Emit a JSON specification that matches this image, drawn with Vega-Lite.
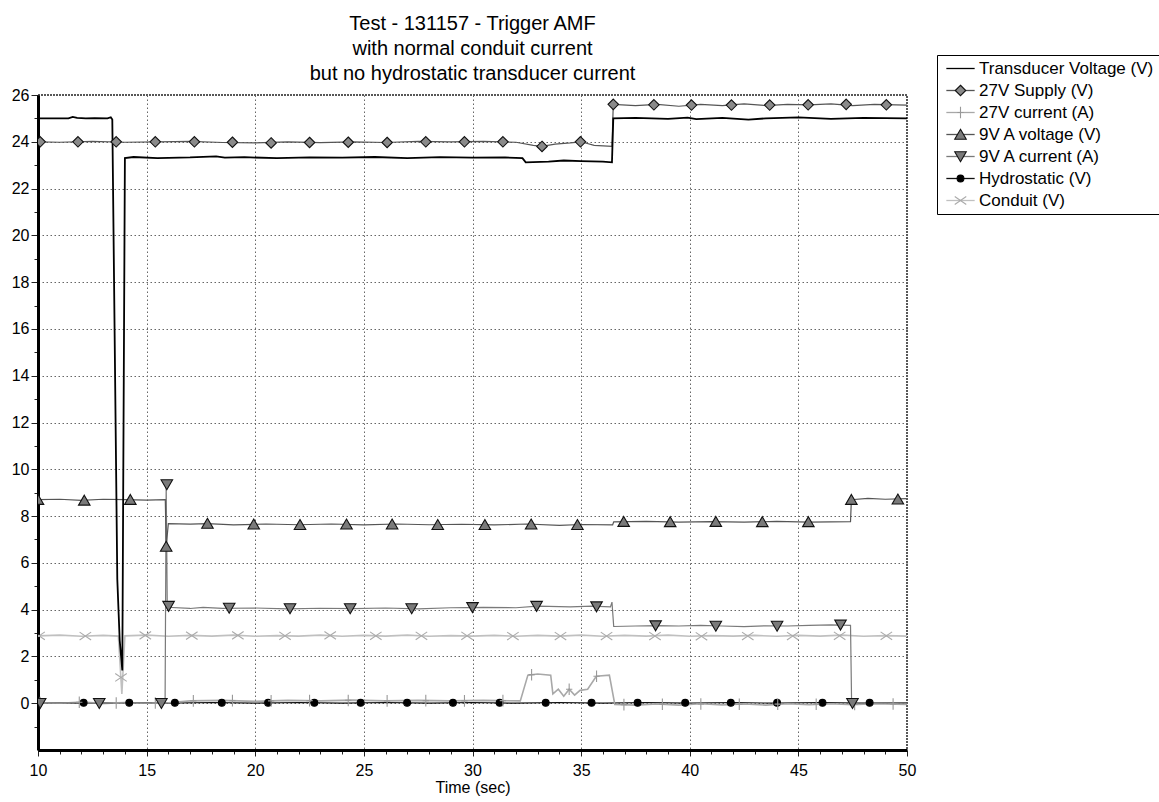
{
  "$schema": "https://vega.github.io/schema/vega-lite/v6.json",
  "width": 869,
  "height": 655,
  "autosize": {"type": "none"},
  "padding": {"left": 38, "top": 95, "right": 252, "bottom": 52},
  "background": "white",
  "title": {
    "text": ["Test - 131157 - Trigger AMF", "with normal conduit current", "but no hydrostatic transducer current"],
    "font": "Liberation Sans",
    "fontSize": 20,
    "fontWeight": "normal",
    "lineHeight": 25,
    "anchor": "middle",
    "frame": "group",
    "offset": -29,
    "color": "#000"
  },
  "config": {
    "font": "Liberation Sans",
    "view": {"stroke": "#222", "strokeWidth": 1.5, "strokeDash": [2, 1]},
    "axis": {
      "domainColor": "#000",
      "domainWidth": 3,
      "tickColor": "#222",
      "tickWidth": 1,
      "labelFont": "Liberation Sans",
      "labelFontSize": 16,
      "labelColor": "#000",
      "gridColor": "#666",
      "gridDash": [1.5, 2.5],
      "gridWidth": 1,
      "labelOverlap": false,
      "labelBound": false,
      "labelFlush": false
    }
  },
  "datasets": {
    "lines": [
      {"s": "Hydrostatic (V)", "t": 10, "v": 0.02},
      {"s": "Hydrostatic (V)", "t": 12, "v": 0.0},
      {"s": "Hydrostatic (V)", "t": 14, "v": 0.03},
      {"s": "Hydrostatic (V)", "t": 16, "v": 0.0},
      {"s": "Hydrostatic (V)", "t": 18, "v": 0.03},
      {"s": "Hydrostatic (V)", "t": 20, "v": 0.0},
      {"s": "Hydrostatic (V)", "t": 22, "v": 0.03},
      {"s": "Hydrostatic (V)", "t": 24, "v": 0.0},
      {"s": "Hydrostatic (V)", "t": 26, "v": 0.03},
      {"s": "Hydrostatic (V)", "t": 28, "v": 0.0},
      {"s": "Hydrostatic (V)", "t": 30, "v": 0.03},
      {"s": "Hydrostatic (V)", "t": 32, "v": 0.0},
      {"s": "Hydrostatic (V)", "t": 34, "v": 0.03},
      {"s": "Hydrostatic (V)", "t": 36, "v": 0.0},
      {"s": "Hydrostatic (V)", "t": 38, "v": 0.03},
      {"s": "Hydrostatic (V)", "t": 40, "v": 0.0},
      {"s": "Hydrostatic (V)", "t": 42, "v": 0.03},
      {"s": "Hydrostatic (V)", "t": 44, "v": 0.0},
      {"s": "Hydrostatic (V)", "t": 46, "v": 0.03},
      {"s": "Hydrostatic (V)", "t": 48, "v": 0.0},
      {"s": "Hydrostatic (V)", "t": 50, "v": 0.02},

      {"s": "27V current (A)", "t": 10, "v": 0.03},
      {"s": "27V current (A)", "t": 11, "v": 0.0},
      {"s": "27V current (A)", "t": 12, "v": 0.05},
      {"s": "27V current (A)", "t": 13, "v": 0.0},
      {"s": "27V current (A)", "t": 14, "v": 0.03},
      {"s": "27V current (A)", "t": 15, "v": 0.0},
      {"s": "27V current (A)", "t": 16, "v": 0.02},
      {"s": "27V current (A)", "t": 17, "v": 0.1},
      {"s": "27V current (A)", "t": 18.5, "v": 0.12},
      {"s": "27V current (A)", "t": 20, "v": 0.08},
      {"s": "27V current (A)", "t": 21.5, "v": 0.12},
      {"s": "27V current (A)", "t": 23, "v": 0.1},
      {"s": "27V current (A)", "t": 24.5, "v": 0.13},
      {"s": "27V current (A)", "t": 26, "v": 0.1},
      {"s": "27V current (A)", "t": 27.5, "v": 0.12},
      {"s": "27V current (A)", "t": 29, "v": 0.1},
      {"s": "27V current (A)", "t": 30.5, "v": 0.12},
      {"s": "27V current (A)", "t": 32.2, "v": 0.1},
      {"s": "27V current (A)", "t": 32.55, "v": 1.2},
      {"s": "27V current (A)", "t": 33.0, "v": 1.25},
      {"s": "27V current (A)", "t": 33.6, "v": 1.2},
      {"s": "27V current (A)", "t": 33.7, "v": 0.4},
      {"s": "27V current (A)", "t": 33.95, "v": 0.6},
      {"s": "27V current (A)", "t": 34.2, "v": 0.3},
      {"s": "27V current (A)", "t": 34.45, "v": 0.6},
      {"s": "27V current (A)", "t": 34.7, "v": 0.35},
      {"s": "27V current (A)", "t": 34.95, "v": 0.55},
      {"s": "27V current (A)", "t": 35.3, "v": 0.6},
      {"s": "27V current (A)", "t": 35.7, "v": 1.15},
      {"s": "27V current (A)", "t": 36.3, "v": 1.2},
      {"s": "27V current (A)", "t": 36.55, "v": -0.05},
      {"s": "27V current (A)", "t": 37.5, "v": -0.08},
      {"s": "27V current (A)", "t": 38.5, "v": -0.03},
      {"s": "27V current (A)", "t": 39.5, "v": -0.08},
      {"s": "27V current (A)", "t": 40.5, "v": -0.02},
      {"s": "27V current (A)", "t": 41.5, "v": -0.07},
      {"s": "27V current (A)", "t": 42.5, "v": -0.03},
      {"s": "27V current (A)", "t": 43.5, "v": -0.08},
      {"s": "27V current (A)", "t": 44.5, "v": -0.02},
      {"s": "27V current (A)", "t": 45.5, "v": -0.06},
      {"s": "27V current (A)", "t": 46.5, "v": -0.02},
      {"s": "27V current (A)", "t": 47.5, "v": -0.06},
      {"s": "27V current (A)", "t": 48.5, "v": -0.02},
      {"s": "27V current (A)", "t": 50, "v": -0.05},

      {"s": "Conduit (V)", "t": 10, "v": 2.88},
      {"s": "Conduit (V)", "t": 11, "v": 2.91},
      {"s": "Conduit (V)", "t": 12, "v": 2.86},
      {"s": "Conduit (V)", "t": 13, "v": 2.9},
      {"s": "Conduit (V)", "t": 13.7, "v": 2.87},
      {"s": "Conduit (V)", "t": 13.86, "v": 0.4},
      {"s": "Conduit (V)", "t": 14.0, "v": 2.88},
      {"s": "Conduit (V)", "t": 15, "v": 2.91},
      {"s": "Conduit (V)", "t": 16, "v": 2.86},
      {"s": "Conduit (V)", "t": 17, "v": 2.9},
      {"s": "Conduit (V)", "t": 18, "v": 2.87},
      {"s": "Conduit (V)", "t": 19, "v": 2.91},
      {"s": "Conduit (V)", "t": 20, "v": 2.86},
      {"s": "Conduit (V)", "t": 21, "v": 2.89},
      {"s": "Conduit (V)", "t": 22, "v": 2.87},
      {"s": "Conduit (V)", "t": 23, "v": 2.91},
      {"s": "Conduit (V)", "t": 24, "v": 2.86},
      {"s": "Conduit (V)", "t": 25, "v": 2.9},
      {"s": "Conduit (V)", "t": 26, "v": 2.87},
      {"s": "Conduit (V)", "t": 27, "v": 2.91},
      {"s": "Conduit (V)", "t": 28, "v": 2.86},
      {"s": "Conduit (V)", "t": 29, "v": 2.89},
      {"s": "Conduit (V)", "t": 30, "v": 2.87},
      {"s": "Conduit (V)", "t": 31, "v": 2.9},
      {"s": "Conduit (V)", "t": 32, "v": 2.86},
      {"s": "Conduit (V)", "t": 33, "v": 2.9},
      {"s": "Conduit (V)", "t": 34, "v": 2.87},
      {"s": "Conduit (V)", "t": 35, "v": 2.91},
      {"s": "Conduit (V)", "t": 36, "v": 2.86},
      {"s": "Conduit (V)", "t": 37, "v": 2.9},
      {"s": "Conduit (V)", "t": 38, "v": 2.87},
      {"s": "Conduit (V)", "t": 39, "v": 2.91},
      {"s": "Conduit (V)", "t": 40, "v": 2.86},
      {"s": "Conduit (V)", "t": 41, "v": 2.89},
      {"s": "Conduit (V)", "t": 42, "v": 2.87},
      {"s": "Conduit (V)", "t": 43, "v": 2.9},
      {"s": "Conduit (V)", "t": 44, "v": 2.86},
      {"s": "Conduit (V)", "t": 45, "v": 2.9},
      {"s": "Conduit (V)", "t": 46, "v": 2.87},
      {"s": "Conduit (V)", "t": 47, "v": 2.91},
      {"s": "Conduit (V)", "t": 48, "v": 2.86},
      {"s": "Conduit (V)", "t": 49, "v": 2.89},
      {"s": "Conduit (V)", "t": 50, "v": 2.87},

      {"s": "9V A current (A)", "t": 10, "v": 0.0},
      {"s": "9V A current (A)", "t": 11.5, "v": 0.02},
      {"s": "9V A current (A)", "t": 13, "v": -0.02},
      {"s": "9V A current (A)", "t": 14.5, "v": 0.02},
      {"s": "9V A current (A)", "t": 15.85, "v": 0.0},
      {"s": "9V A current (A)", "t": 15.9, "v": 9.35},
      {"s": "9V A current (A)", "t": 15.95, "v": 4.1},
      {"s": "9V A current (A)", "t": 17, "v": 4.05},
      {"s": "9V A current (A)", "t": 17.6, "v": 4.1},
      {"s": "9V A current (A)", "t": 18.5, "v": 4.05},
      {"s": "9V A current (A)", "t": 20, "v": 4.07},
      {"s": "9V A current (A)", "t": 21.5, "v": 4.03},
      {"s": "9V A current (A)", "t": 23, "v": 4.06},
      {"s": "9V A current (A)", "t": 24.5, "v": 4.04},
      {"s": "9V A current (A)", "t": 26, "v": 4.07},
      {"s": "9V A current (A)", "t": 27.5, "v": 4.03},
      {"s": "9V A current (A)", "t": 29, "v": 4.08},
      {"s": "9V A current (A)", "t": 30.5, "v": 4.1},
      {"s": "9V A current (A)", "t": 32, "v": 4.08},
      {"s": "9V A current (A)", "t": 33, "v": 4.15},
      {"s": "9V A current (A)", "t": 34.5, "v": 4.12},
      {"s": "9V A current (A)", "t": 35.5, "v": 4.15},
      {"s": "9V A current (A)", "t": 36.35, "v": 4.12},
      {"s": "9V A current (A)", "t": 36.42, "v": 4.32},
      {"s": "9V A current (A)", "t": 36.5, "v": 3.28},
      {"s": "9V A current (A)", "t": 37.5, "v": 3.3},
      {"s": "9V A current (A)", "t": 38.5, "v": 3.32},
      {"s": "9V A current (A)", "t": 39.5, "v": 3.3},
      {"s": "9V A current (A)", "t": 40.5, "v": 3.33},
      {"s": "9V A current (A)", "t": 41.5, "v": 3.3},
      {"s": "9V A current (A)", "t": 42.5, "v": 3.27},
      {"s": "9V A current (A)", "t": 43.5, "v": 3.31},
      {"s": "9V A current (A)", "t": 44.5, "v": 3.3},
      {"s": "9V A current (A)", "t": 45.5, "v": 3.33},
      {"s": "9V A current (A)", "t": 46.5, "v": 3.35},
      {"s": "9V A current (A)", "t": 47.4, "v": 3.33},
      {"s": "9V A current (A)", "t": 47.45, "v": 0.0},
      {"s": "9V A current (A)", "t": 48.5, "v": 0.02},
      {"s": "9V A current (A)", "t": 50, "v": 0.0},

      {"s": "9V A voltage (V)", "t": 10, "v": 8.7},
      {"s": "9V A voltage (V)", "t": 11, "v": 8.72},
      {"s": "9V A voltage (V)", "t": 12, "v": 8.67},
      {"s": "9V A voltage (V)", "t": 13, "v": 8.72},
      {"s": "9V A voltage (V)", "t": 14, "v": 8.7},
      {"s": "9V A voltage (V)", "t": 15, "v": 8.68},
      {"s": "9V A voltage (V)", "t": 15.86, "v": 8.7},
      {"s": "9V A voltage (V)", "t": 15.9, "v": 6.7},
      {"s": "9V A voltage (V)", "t": 16.0, "v": 7.68},
      {"s": "9V A voltage (V)", "t": 17, "v": 7.66},
      {"s": "9V A voltage (V)", "t": 17.8, "v": 7.68},
      {"s": "9V A voltage (V)", "t": 19, "v": 7.62},
      {"s": "9V A voltage (V)", "t": 20.5, "v": 7.66},
      {"s": "9V A voltage (V)", "t": 22, "v": 7.63},
      {"s": "9V A voltage (V)", "t": 23.5, "v": 7.66},
      {"s": "9V A voltage (V)", "t": 25, "v": 7.62},
      {"s": "9V A voltage (V)", "t": 26.5, "v": 7.66},
      {"s": "9V A voltage (V)", "t": 28, "v": 7.63},
      {"s": "9V A voltage (V)", "t": 29.5, "v": 7.65},
      {"s": "9V A voltage (V)", "t": 31, "v": 7.62},
      {"s": "9V A voltage (V)", "t": 32.5, "v": 7.66},
      {"s": "9V A voltage (V)", "t": 34, "v": 7.6},
      {"s": "9V A voltage (V)", "t": 35, "v": 7.64},
      {"s": "9V A voltage (V)", "t": 36.45, "v": 7.62},
      {"s": "9V A voltage (V)", "t": 36.5, "v": 7.75},
      {"s": "9V A voltage (V)", "t": 38, "v": 7.77},
      {"s": "9V A voltage (V)", "t": 39.5, "v": 7.74},
      {"s": "9V A voltage (V)", "t": 41, "v": 7.76},
      {"s": "9V A voltage (V)", "t": 42.5, "v": 7.74},
      {"s": "9V A voltage (V)", "t": 44, "v": 7.77},
      {"s": "9V A voltage (V)", "t": 45.5, "v": 7.74},
      {"s": "9V A voltage (V)", "t": 47.4, "v": 7.76},
      {"s": "9V A voltage (V)", "t": 47.44, "v": 8.7},
      {"s": "9V A voltage (V)", "t": 48.2, "v": 8.76},
      {"s": "9V A voltage (V)", "t": 49, "v": 8.72},
      {"s": "9V A voltage (V)", "t": 50, "v": 8.75},

      {"s": "27V Supply (V)", "t": 10, "v": 24.0},
      {"s": "27V Supply (V)", "t": 11, "v": 23.98},
      {"s": "27V Supply (V)", "t": 12.5, "v": 24.02},
      {"s": "27V Supply (V)", "t": 14, "v": 23.98},
      {"s": "27V Supply (V)", "t": 15.5, "v": 24.0},
      {"s": "27V Supply (V)", "t": 17, "v": 24.02},
      {"s": "27V Supply (V)", "t": 18.5, "v": 23.97},
      {"s": "27V Supply (V)", "t": 20, "v": 23.95},
      {"s": "27V Supply (V)", "t": 21.5, "v": 24.0},
      {"s": "27V Supply (V)", "t": 23, "v": 23.96},
      {"s": "27V Supply (V)", "t": 24.5, "v": 24.0},
      {"s": "27V Supply (V)", "t": 26, "v": 23.97},
      {"s": "27V Supply (V)", "t": 27.5, "v": 24.02},
      {"s": "27V Supply (V)", "t": 29, "v": 24.0},
      {"s": "27V Supply (V)", "t": 30.5, "v": 24.02},
      {"s": "27V Supply (V)", "t": 32, "v": 23.98},
      {"s": "27V Supply (V)", "t": 32.8, "v": 23.85},
      {"s": "27V Supply (V)", "t": 33.2, "v": 23.8},
      {"s": "27V Supply (V)", "t": 33.8, "v": 23.9},
      {"s": "27V Supply (V)", "t": 34.5, "v": 23.95},
      {"s": "27V Supply (V)", "t": 35, "v": 24.0},
      {"s": "27V Supply (V)", "t": 35.6, "v": 23.85},
      {"s": "27V Supply (V)", "t": 36.42, "v": 23.8},
      {"s": "27V Supply (V)", "t": 36.48, "v": 25.6},
      {"s": "27V Supply (V)", "t": 37.5, "v": 25.55},
      {"s": "27V Supply (V)", "t": 38.5, "v": 25.6},
      {"s": "27V Supply (V)", "t": 39.5, "v": 25.52},
      {"s": "27V Supply (V)", "t": 40.5, "v": 25.6},
      {"s": "27V Supply (V)", "t": 41.5, "v": 25.55},
      {"s": "27V Supply (V)", "t": 42.5, "v": 25.62},
      {"s": "27V Supply (V)", "t": 43.5, "v": 25.55},
      {"s": "27V Supply (V)", "t": 44.5, "v": 25.6},
      {"s": "27V Supply (V)", "t": 45.5, "v": 25.58},
      {"s": "27V Supply (V)", "t": 46.5, "v": 25.62},
      {"s": "27V Supply (V)", "t": 47.5, "v": 25.55},
      {"s": "27V Supply (V)", "t": 48.5, "v": 25.6},
      {"s": "27V Supply (V)", "t": 50, "v": 25.57},

      {"s": "Transducer Voltage (V)", "t": 10, "v": 25.0},
      {"s": "Transducer Voltage (V)", "t": 11.4, "v": 25.0},
      {"s": "Transducer Voltage (V)", "t": 11.6, "v": 25.06},
      {"s": "Transducer Voltage (V)", "t": 11.8, "v": 25.02},
      {"s": "Transducer Voltage (V)", "t": 12.2, "v": 25.0},
      {"s": "Transducer Voltage (V)", "t": 12.6, "v": 25.01},
      {"s": "Transducer Voltage (V)", "t": 13.2, "v": 25.0},
      {"s": "Transducer Voltage (V)", "t": 13.35, "v": 25.05},
      {"s": "Transducer Voltage (V)", "t": 13.42, "v": 24.95},
      {"s": "Transducer Voltage (V)", "t": 13.65, "v": 5.3},
      {"s": "Transducer Voltage (V)", "t": 13.76, "v": 2.7},
      {"s": "Transducer Voltage (V)", "t": 13.88, "v": 1.4},
      {"s": "Transducer Voltage (V)", "t": 14.0, "v": 23.3},
      {"s": "Transducer Voltage (V)", "t": 14.4, "v": 23.35},
      {"s": "Transducer Voltage (V)", "t": 15.5, "v": 23.3},
      {"s": "Transducer Voltage (V)", "t": 17, "v": 23.33},
      {"s": "Transducer Voltage (V)", "t": 18.2, "v": 23.38},
      {"s": "Transducer Voltage (V)", "t": 18.6, "v": 23.32},
      {"s": "Transducer Voltage (V)", "t": 19.5, "v": 23.34},
      {"s": "Transducer Voltage (V)", "t": 21, "v": 23.3},
      {"s": "Transducer Voltage (V)", "t": 22.5, "v": 23.33},
      {"s": "Transducer Voltage (V)", "t": 24, "v": 23.32},
      {"s": "Transducer Voltage (V)", "t": 25.5, "v": 23.35},
      {"s": "Transducer Voltage (V)", "t": 27, "v": 23.3},
      {"s": "Transducer Voltage (V)", "t": 28.5, "v": 23.34},
      {"s": "Transducer Voltage (V)", "t": 30, "v": 23.32},
      {"s": "Transducer Voltage (V)", "t": 31.5, "v": 23.33},
      {"s": "Transducer Voltage (V)", "t": 32.3, "v": 23.3},
      {"s": "Transducer Voltage (V)", "t": 32.45, "v": 23.12},
      {"s": "Transducer Voltage (V)", "t": 33.5, "v": 23.15},
      {"s": "Transducer Voltage (V)", "t": 34.2, "v": 23.2},
      {"s": "Transducer Voltage (V)", "t": 35, "v": 23.17},
      {"s": "Transducer Voltage (V)", "t": 36.0, "v": 23.15},
      {"s": "Transducer Voltage (V)", "t": 36.42, "v": 23.12},
      {"s": "Transducer Voltage (V)", "t": 36.48, "v": 25.0},
      {"s": "Transducer Voltage (V)", "t": 37.5, "v": 25.02},
      {"s": "Transducer Voltage (V)", "t": 39, "v": 24.98},
      {"s": "Transducer Voltage (V)", "t": 39.9, "v": 25.03},
      {"s": "Transducer Voltage (V)", "t": 40.3, "v": 24.97},
      {"s": "Transducer Voltage (V)", "t": 41.5, "v": 25.02},
      {"s": "Transducer Voltage (V)", "t": 42.7, "v": 24.95},
      {"s": "Transducer Voltage (V)", "t": 43.5, "v": 25.0},
      {"s": "Transducer Voltage (V)", "t": 45, "v": 25.04},
      {"s": "Transducer Voltage (V)", "t": 46.5, "v": 24.98},
      {"s": "Transducer Voltage (V)", "t": 48, "v": 25.02},
      {"s": "Transducer Voltage (V)", "t": 50, "v": 25.0}
    ],
    "marks": [
      {"s": "Hydrostatic (V)", "t": 12.1, "v": 0.02},
      {"s": "Hydrostatic (V)", "t": 14.2, "v": 0.02},
      {"s": "Hydrostatic (V)", "t": 16.3, "v": 0.02},
      {"s": "Hydrostatic (V)", "t": 18.46, "v": 0.02},
      {"s": "Hydrostatic (V)", "t": 20.59, "v": 0.02},
      {"s": "Hydrostatic (V)", "t": 22.72, "v": 0.02},
      {"s": "Hydrostatic (V)", "t": 24.85, "v": 0.02},
      {"s": "Hydrostatic (V)", "t": 26.99, "v": 0.02},
      {"s": "Hydrostatic (V)", "t": 29.1, "v": 0.02},
      {"s": "Hydrostatic (V)", "t": 31.25, "v": 0.02},
      {"s": "Hydrostatic (V)", "t": 33.37, "v": 0.02},
      {"s": "Hydrostatic (V)", "t": 35.48, "v": 0.02},
      {"s": "Hydrostatic (V)", "t": 37.6, "v": 0.02},
      {"s": "Hydrostatic (V)", "t": 39.79, "v": 0.02},
      {"s": "Hydrostatic (V)", "t": 41.89, "v": 0.02},
      {"s": "Hydrostatic (V)", "t": 44.02, "v": 0.02},
      {"s": "Hydrostatic (V)", "t": 46.11, "v": 0.02},
      {"s": "Hydrostatic (V)", "t": 48.28, "v": 0.02},

      {"s": "27V current (A)", "t": 10.1, "v": 0.03},
      {"s": "27V current (A)", "t": 11.9, "v": 0.04},
      {"s": "27V current (A)", "t": 13.6, "v": 0.01},
      {"s": "27V current (A)", "t": 15.4, "v": 0.01},
      {"s": "27V current (A)", "t": 17.15, "v": 0.1},
      {"s": "27V current (A)", "t": 18.95, "v": 0.11},
      {"s": "27V current (A)", "t": 20.73, "v": 0.1},
      {"s": "27V current (A)", "t": 22.5, "v": 0.11},
      {"s": "27V current (A)", "t": 24.28, "v": 0.12},
      {"s": "27V current (A)", "t": 26.07, "v": 0.1},
      {"s": "27V current (A)", "t": 27.85, "v": 0.11},
      {"s": "27V current (A)", "t": 29.63, "v": 0.1},
      {"s": "27V current (A)", "t": 31.4, "v": 0.11},
      {"s": "27V current (A)", "t": 32.72, "v": 1.22},
      {"s": "27V current (A)", "t": 34.45, "v": 0.6},
      {"s": "27V current (A)", "t": 35.71, "v": 1.15},
      {"s": "27V current (A)", "t": 36.97, "v": -0.06},
      {"s": "27V current (A)", "t": 38.74, "v": -0.04},
      {"s": "27V current (A)", "t": 40.51, "v": -0.03},
      {"s": "27V current (A)", "t": 42.28, "v": -0.04},
      {"s": "27V current (A)", "t": 44.05, "v": -0.04},
      {"s": "27V current (A)", "t": 45.82, "v": -0.04},
      {"s": "27V current (A)", "t": 47.59, "v": -0.05},
      {"s": "27V current (A)", "t": 49.36, "v": -0.03},

      {"s": "Conduit (V)", "t": 10.05, "v": 2.88},
      {"s": "Conduit (V)", "t": 12.18, "v": 2.87},
      {"s": "Conduit (V)", "t": 13.82, "v": 1.1},
      {"s": "Conduit (V)", "t": 14.94, "v": 2.9},
      {"s": "Conduit (V)", "t": 17.08, "v": 2.89},
      {"s": "Conduit (V)", "t": 19.2, "v": 2.9},
      {"s": "Conduit (V)", "t": 21.37, "v": 2.88},
      {"s": "Conduit (V)", "t": 23.45, "v": 2.9},
      {"s": "Conduit (V)", "t": 25.55, "v": 2.88},
      {"s": "Conduit (V)", "t": 27.65, "v": 2.88},
      {"s": "Conduit (V)", "t": 29.75, "v": 2.88},
      {"s": "Conduit (V)", "t": 31.86, "v": 2.87},
      {"s": "Conduit (V)", "t": 34.05, "v": 2.87},
      {"s": "Conduit (V)", "t": 36.17, "v": 2.87},
      {"s": "Conduit (V)", "t": 38.4, "v": 2.87},
      {"s": "Conduit (V)", "t": 40.54, "v": 2.86},
      {"s": "Conduit (V)", "t": 42.67, "v": 2.87},
      {"s": "Conduit (V)", "t": 44.74, "v": 2.87},
      {"s": "Conduit (V)", "t": 46.9, "v": 2.88},
      {"s": "Conduit (V)", "t": 49.05, "v": 2.88},

      {"s": "9V A current (A)", "t": 10.1, "v": 0.0},
      {"s": "9V A current (A)", "t": 12.82, "v": 0.0},
      {"s": "9V A current (A)", "t": 15.68, "v": 0.0},
      {"s": "9V A current (A)", "t": 15.93, "v": 9.35},
      {"s": "9V A current (A)", "t": 16.01, "v": 4.15},
      {"s": "9V A current (A)", "t": 18.8, "v": 4.07},
      {"s": "9V A current (A)", "t": 21.6, "v": 4.05},
      {"s": "9V A current (A)", "t": 24.37, "v": 4.05},
      {"s": "9V A current (A)", "t": 27.2, "v": 4.05},
      {"s": "9V A current (A)", "t": 30.0, "v": 4.1},
      {"s": "9V A current (A)", "t": 32.95, "v": 4.15},
      {"s": "9V A current (A)", "t": 35.71, "v": 4.13},
      {"s": "9V A current (A)", "t": 38.43, "v": 3.32},
      {"s": "9V A current (A)", "t": 41.2, "v": 3.3},
      {"s": "9V A current (A)", "t": 44.02, "v": 3.3},
      {"s": "9V A current (A)", "t": 46.94, "v": 3.35},
      {"s": "9V A current (A)", "t": 47.49, "v": 0.0},

      {"s": "9V A voltage (V)", "t": 10.0, "v": 8.7},
      {"s": "9V A voltage (V)", "t": 12.13, "v": 8.67},
      {"s": "9V A voltage (V)", "t": 14.25, "v": 8.7},
      {"s": "9V A voltage (V)", "t": 15.9, "v": 6.7},
      {"s": "9V A voltage (V)", "t": 17.8, "v": 7.68},
      {"s": "9V A voltage (V)", "t": 19.93, "v": 7.65},
      {"s": "9V A voltage (V)", "t": 22.06, "v": 7.63},
      {"s": "9V A voltage (V)", "t": 24.2, "v": 7.65},
      {"s": "9V A voltage (V)", "t": 26.3, "v": 7.65},
      {"s": "9V A voltage (V)", "t": 28.4, "v": 7.63},
      {"s": "9V A voltage (V)", "t": 30.57, "v": 7.63},
      {"s": "9V A voltage (V)", "t": 32.7, "v": 7.65},
      {"s": "9V A voltage (V)", "t": 34.83, "v": 7.63},
      {"s": "9V A voltage (V)", "t": 36.96, "v": 7.76},
      {"s": "9V A voltage (V)", "t": 39.1, "v": 7.75},
      {"s": "9V A voltage (V)", "t": 41.2, "v": 7.76},
      {"s": "9V A voltage (V)", "t": 43.34, "v": 7.75},
      {"s": "9V A voltage (V)", "t": 45.46, "v": 7.75},
      {"s": "9V A voltage (V)", "t": 47.44, "v": 8.7},
      {"s": "9V A voltage (V)", "t": 49.58, "v": 8.72},

      {"s": "27V Supply (V)", "t": 10.1, "v": 24.0},
      {"s": "27V Supply (V)", "t": 11.84, "v": 24.0},
      {"s": "27V Supply (V)", "t": 13.6, "v": 24.0},
      {"s": "27V Supply (V)", "t": 15.4, "v": 24.0},
      {"s": "27V Supply (V)", "t": 17.2, "v": 24.0},
      {"s": "27V Supply (V)", "t": 18.95, "v": 23.98},
      {"s": "27V Supply (V)", "t": 20.73, "v": 23.95},
      {"s": "27V Supply (V)", "t": 22.5, "v": 23.97},
      {"s": "27V Supply (V)", "t": 24.28, "v": 23.98},
      {"s": "27V Supply (V)", "t": 26.07, "v": 23.97},
      {"s": "27V Supply (V)", "t": 27.85, "v": 24.0},
      {"s": "27V Supply (V)", "t": 29.63, "v": 24.0},
      {"s": "27V Supply (V)", "t": 31.4, "v": 24.0},
      {"s": "27V Supply (V)", "t": 33.2, "v": 23.8},
      {"s": "27V Supply (V)", "t": 34.97, "v": 24.0},
      {"s": "27V Supply (V)", "t": 36.48, "v": 25.6},
      {"s": "27V Supply (V)", "t": 38.35, "v": 25.58},
      {"s": "27V Supply (V)", "t": 40.08, "v": 25.57},
      {"s": "27V Supply (V)", "t": 41.92, "v": 25.57},
      {"s": "27V Supply (V)", "t": 43.68, "v": 25.57},
      {"s": "27V Supply (V)", "t": 45.45, "v": 25.58},
      {"s": "27V Supply (V)", "t": 47.2, "v": 25.6},
      {"s": "27V Supply (V)", "t": 49.05, "v": 25.58}
    ]
  },
  "encoding": {
    "x": {
      "field": "t",
      "type": "quantitative",
      "scale": {"domain": [10, 50], "nice": false, "zero": false},
      "axis": {
        "title": "Time (sec)",
        "titleFont": "Liberation Sans",
        "titleFontSize": 16,
        "titleFontWeight": "normal",
        "titleColor": "#000",
        "titlePadding": 1,
        "values": [10,11,12,13,14,15,16,17,18,19,20,21,22,23,24,25,26,27,28,29,30,31,32,33,34,35,36,37,38,39,40,41,42,43,44,45,46,47,48,49,50],
        "labelExpr": "datum.value % 5 === 0 ? datum.label : ''",
        "labelPadding": 6,
        "tickSize": {"condition": {"test": "datum.value % 5 === 0", "value": 6}, "value": 4},
        "grid": true,
        "gridOpacity": {"condition": {"test": "datum.value % 5 === 0 && datum.value > 10 && datum.value < 50", "value": 1}, "value": 0}
      }
    },
    "y": {
      "field": "v",
      "type": "quantitative",
      "scale": {"domain": [-2, 26], "nice": false, "zero": false},
      "axis": {
        "title": null,
        "values": [-1,0,1,2,3,4,5,6,7,8,9,10,11,12,13,14,15,16,17,18,19,20,21,22,23,24,25,26],
        "labelExpr": "datum.value >= 0 && datum.value % 2 === 0 ? datum.label : ''",
        "labelPadding": 2,
        "tickSize": {"condition": {"test": "datum.value % 2 === 0", "value": 7}, "value": 4},
        "grid": true,
        "gridOpacity": {"condition": {"test": "datum.value % 2 === 0 && datum.value < 26", "value": 1}, "value": 0}
      }
    }
  },
  "layer": [
    {
      "data": {"name": "lines"},
      "mark": {
        "type": "line",
        "clip": true,
        "strokeWidth": {"expr": "datum.s === 'Transducer Voltage (V)' ? 1.8 : (datum.s === 'Conduit (V)' || datum.s === '27V current (A)' ? 1.6 : 1.2)"}
      },
      "encoding": {
        "color": {
          "field": "s",
          "type": "nominal",
          "scale": {
            "domain": ["Transducer Voltage (V)", "27V Supply (V)", "27V current (A)", "9V A voltage (V)", "9V A current (A)", "Hydrostatic (V)", "Conduit (V)"],
            "range": ["#000000", "#555555", "#a8a8a8", "#555555", "#7a7a7a", "#111111", "#c0c0c0"]
          },
          "legend": {
            "orient": "none",
            "legendX": 899,
            "legendY": -40,
            "title": null,
            "symbolType": "M-2.7,0H2.7",
            "symbolSize": 110,
            "symbolStrokeWidth": 1.3,
            "symbolOffset": 10,
            "labelOffset": 10,
            "labelFont": "Liberation Sans",
            "labelFontSize": 17,
            "labelColor": "#000",
            "labelLimit": 400,
            "rowPadding": 4,
            "padding": 5,
            "strokeColor": "#000",
            "fillColor": "#ffffff"
          }
        }
      }
    },
    {
      "data": {"name": "marks"},
      "mark": {"type": "point", "filled": true, "clip": true, "size": 110, "strokeWidth": 1.1, "opacity": 1},
      "encoding": {
        "shape": {
          "field": "s",
          "type": "nominal",
          "scale": {
            "domain": ["Transducer Voltage (V)", "27V Supply (V)", "27V current (A)", "9V A voltage (V)", "9V A current (A)", "Hydrostatic (V)", "Conduit (V)"],
            "range": [
              "M0,0",
              "M0,-1L1,0L0,1L-1,0Z",
              "M0,-1.1L0,1.1M-0.6,0L0.6,0",
              "M0,-1L1.1,0.9L-1.1,0.9Z",
              "M0,1L1.1,-0.9L-1.1,-0.9Z",
              "M-0.65,0A0.65,0.65 0 1,0 0.65,0A0.65,0.65 0 1,0 -0.65,0Z",
              "M-1.1,-0.75L1.1,0.75M-1.1,0.75L1.1,-0.75"
            ]
          },
          "legend": {
            "orient": "none",
            "legendX": 899,
            "legendY": -40,
            "title": null,
            "symbolSize": 110,
            "symbolStrokeWidth": 1.1,
            "symbolOffset": 10,
            "labelOffset": 10,
            "labelFont": "Liberation Sans",
            "labelFontSize": 17,
            "labelColor": "transparent",
            "labelLimit": 400,
            "rowPadding": 4,
            "padding": 5
          }
        },
        "fill": {
          "field": "s",
          "type": "nominal",
          "scale": {
            "domain": ["Transducer Voltage (V)", "27V Supply (V)", "27V current (A)", "9V A voltage (V)", "9V A current (A)", "Hydrostatic (V)", "Conduit (V)"],
            "range": ["transparent", "#8a8a8a", "transparent", "#7a7a7a", "#7a7a7a", "#000000", "transparent"]
          }
        },
        "stroke": {
          "field": "s",
          "type": "nominal",
          "scale": {
            "domain": ["Transducer Voltage (V)", "27V Supply (V)", "27V current (A)", "9V A voltage (V)", "9V A current (A)", "Hydrostatic (V)", "Conduit (V)"],
            "range": ["transparent", "#111111", "#999999", "#111111", "#111111", "#000000", "#aaaaaa"]
          }
        }
      }
    }
  ],
  "resolve": {"legend": {"color": "independent", "shape": "independent", "fill": "independent", "stroke": "independent"}}
}
